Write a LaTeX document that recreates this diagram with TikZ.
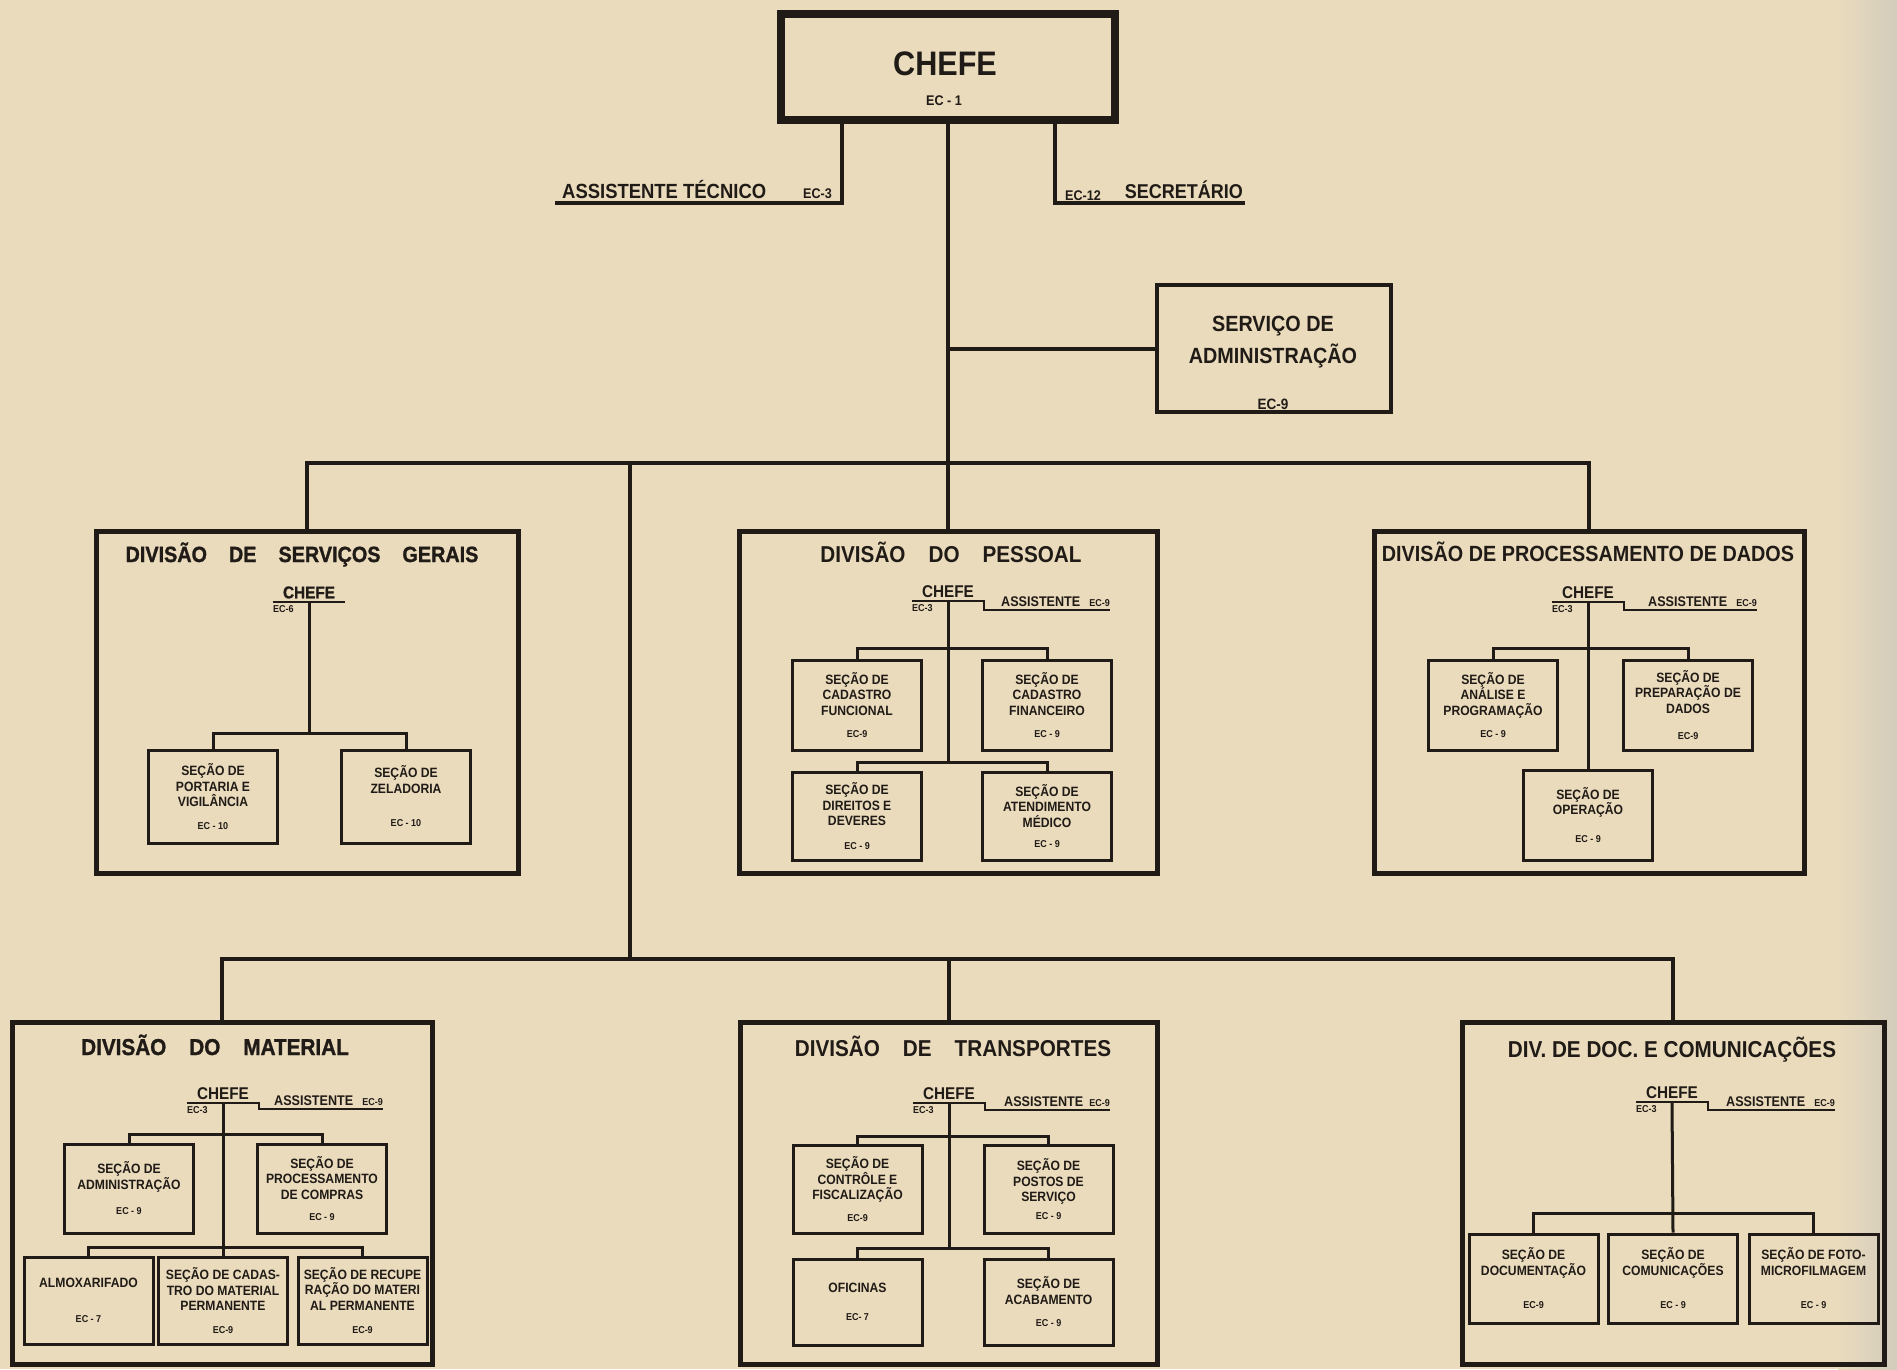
\documentclass[tikz,border=0pt]{standalone}
\usepackage{fontspec}
\setmainfont{Liberation Sans}[FakeStretch=0.9]
\newfontfamily\medfont{Liberation Sans}[FakeStretch=0.9, FakeBold=1.2]
\usetikzlibrary{calc}

\newcommand\eclbl[1]{{\fontsize{10}{12}\selectfont #1}}

\begin{document}
\begin{tikzpicture}[x=1pt, y=-1pt,
    % boxes and lines
    mainbox/.style={draw=ink, line width=8pt, minimum width=334pt, minimum height=106pt, inner sep=0pt},
    servbox/.style={draw=ink, line width=4pt, minimum width=234pt, minimum height=127pt, inner sep=0pt},
    divbox/.style={draw=ink, line width=5pt, minimum width=#1, minimum height=342pt, inner sep=0pt},
    secbox/.style={draw=ink, line width=3pt, minimum width=129pt, minimum height=89pt, inner sep=0pt,
        align=center, text=ink, font=\bfseries\fontsize{13.5}{15.5}\selectfont},
    link/.style={draw=ink, line width=3pt},
    bus/.style={draw=ink, line width=4pt},
    uline/.style={draw=ink, line width=2.5pt},
    % lettering
    lbl/.style={text=ink, inner sep=0pt, anchor=base, font=\bfseries\fontsize{#1}{#1}\selectfont},
    chefelbl/.style={text=ink, font=\bfseries\fontsize{17}{20}\selectfont, minimum width=72pt,
        inner xsep=0pt, inner ysep=3.5pt, text height=12pt, text depth=0pt, anchor=south},
    asstlbl/.style={text=ink, font=\bfseries\fontsize{14}{16}\selectfont,
        inner xsep=0pt, inner ysep=3pt, text height=10pt, text depth=0pt, anchor=south east},
    ecnode/.style={text=ink, font=\bfseries\fontsize{10}{12}\selectfont, inner xsep=0pt, inner ysep=3pt, anchor=north west},
]
    % Colors
    \definecolor{ink}{RGB}{32,27,22}
    \definecolor{paper}{RGB}{234,219,189}
    \definecolor{paperedge}{RGB}{210,204,188}

    % Paper
    \useasboundingbox (0,0) rectangle (1897,1369);
    \fill[paper] (0,0) rectangle (1897,1369);
    \shade[left color=paper, right color=paperedge] (1838,0) rectangle (1897,1369);

    % Chefe
    \node[mainbox] (chefe) at (948,67) {};
    \node[lbl=34] (chefetxt) at (945,75) {CHEFE};
    \node[lbl=14] (chefeec) at (944,105) {EC - 1};

    % Assistente tecnico and secretario
    \node[lbl=20.5, anchor=base west] (asstec) at (562,198) {ASSISTENTE TÉCNICO};
    \node[lbl=14, anchor=base west] (asstecec) at (803,198) {EC-3};
    \node[lbl=14, anchor=base west] (secrec) at (1065,200) {EC-12};
    \node[lbl=20, anchor=base east] (secr) at (1243,198) {SECRETÁRIO};
    \coordinate (astcorner) at (842,203);
    \coordinate (astend) at (555,203);
    \coordinate (seccorner) at (1055,203);
    \coordinate (secend) at (1245,203);
    \draw[bus] (chefe.south -| astcorner) -- (astcorner) -- (astend);
    \draw[bus] (chefe.south -| seccorner) -- (seccorner) -- (secend);

    % Servico de administracao
    \node[servbox] (serv) at (1274,348.5) {};
    \node[text=ink, align=center, inner sep=0pt, font=\bfseries\fontsize{22}{32}\selectfont] (servtxt)
        at (1273,362.5) {SERVIÇO DE\\ADMINISTRAÇÃO\\[14pt]{\fontsize{15}{15}\selectfont EC-9}};

    % Divisions
    \node[divbox=422pt] (dsg)   at (307,702.5)  {};
    \node[divbox=418pt] (dpes)  at (948,702.5)  {};
    \node[divbox=430pt] (dproc) at (1589,702.5) {};
    \node[divbox=420pt] (dmat)  at (222,1193.5) {};
    \node[divbox=417pt] (dtra)  at (949,1193.5) {};
    \node[divbox=422pt] (ddoc)  at (1673,1193.5) {};

    % Main connectors
    \coordinate (bus1) at (630,463);
    \coordinate (bus2) at (630,959);
    \draw[bus] (chefe.south) -- (dpes.north);
    \draw[bus] (serv.west) -- (serv.west -| chefe.south);
    \draw[bus] (dsg.north) |- (bus1) -| (dproc.north);
    \draw[bus] (bus1) -- (bus2);
    \draw[bus] (dmat.north) |- (bus2) -| (ddoc.north);
    \draw[bus] (dtra.north) -- (dtra.north |- bus2);

    %Divisao de servicos gerais
    \node[lbl=22] (sgtitle) at (302,562) {\medfont DIVISÃO\quad DE\quad SERVIÇOS\quad GERAIS};
    \node[chefelbl] (sgchefe) at (309,602) {\medfont CHEFE};
    \node[ecnode] (sgchefeec) at (sgchefe.south west) {EC-6};
    \draw[uline] (sgchefe.south west) -- (sgchefe.south east);
    \coordinate (sgbr) at (309,733);
    \node[secbox, minimum height=93pt] (sgport) at (213,796.5) {SEÇÃO DE\\PORTARIA E\\VIGILÂNCIA\\[7pt]\eclbl{EC - 10}};
    \node[secbox, minimum height=93pt] (sgzel)  at (406,796.5) {SEÇÃO DE\\ZELADORIA\\[18pt]\eclbl{EC - 10}};
    \draw[link] (sgchefe.south) -- (sgbr);
    \draw[link] (sgport.north) |- (sgbr) -| (sgzel.north);

    %Divisao do pessoal
    \node[lbl=23] (ptitle) at (951,562) {DIVISÃO\quad DO\quad PESSOAL};
    \node[chefelbl] (pchefe) at (948,601) {CHEFE};
    \node[ecnode] (pchefeec) at (pchefe.south west) {EC-3};
    \node[asstlbl] (passt) at (1110,610) {ASSISTENTE\hspace{9pt}\eclbl{EC-9}};
    \draw[uline] (pchefe.south west) -- (pchefe.south east) |- (passt.south east);
    \coordinate (pbr1) at (948,648);
    \coordinate (pbr2) at (948,762);
    \node[secbox, minimum height=90pt] (pcadf)   at (857,705)  {SEÇÃO DE\\CADASTRO\\FUNCIONAL\\[7pt]\eclbl{EC-9}};
    \node[secbox, minimum height=90pt] (pcadfin) at (1047,705) {SEÇÃO DE\\CADASTRO\\FINANCEIRO\\[7pt]\eclbl{EC - 9}};
    \node[secbox, minimum height=88pt] (pdir)    at (857,816)  {SEÇÃO DE\\DIREITOS E\\DEVERES\\[8pt]\eclbl{EC - 9}};
    \node[secbox, minimum height=88pt] (patend)  at (1047,816) {SEÇÃO DE\\ATENDIMENTO\\MÉDICO\\[5pt]\eclbl{EC - 9}};
    \draw[link] (pchefe.south) -- (pbr2);
    \draw[link] (pcadf.north) |- (pbr1) -| (pcadfin.north);
    \draw[link] (pdir.north) |- (pbr2) -| (patend.north);

    %Divisao de processamento de dados
    \node[lbl=22] (prtitle) at (1588,561) {DIVISÃO DE PROCESSAMENTO DE DADOS};
    \node[chefelbl] (prchefe) at (1588,602) {CHEFE};
    \node[ecnode] (prchefeec) at (prchefe.south west) {EC-3};
    \node[asstlbl] (prasst) at (1757,610) {ASSISTENTE\hspace{9pt}\eclbl{EC-9}};
    \draw[uline] (prchefe.south west) -- (prchefe.south east) |- (prasst.south east);
    \coordinate (prbr) at (1588,648);
    \node[secbox, minimum height=90pt] (pranal) at (1493,705) {SEÇÃO DE\\ANÁLISE E\\PROGRAMAÇÃO\\[7pt]\eclbl{EC - 9}};
    \node[secbox, minimum height=90pt] (prprep) at (1688,705) {SEÇÃO DE\\PREPARAÇÃO DE\\DADOS\\[11pt]\eclbl{EC-9}};
    \node[secbox, minimum height=90pt] (proper) at (1588,815) {SEÇÃO DE\\OPERAÇÃO\\[12pt]\eclbl{EC - 9}};
    \draw[link] (prchefe.south) -- (proper.north);
    \draw[link] (pranal.north) |- (prbr) -| (prprep.north);

    %Divisao do material
    \node[lbl=23] (mtitle) at (215,1055) {\medfont DIVISÃO\quad DO\quad MATERIAL};
    \node[chefelbl] (mchefe) at (223,1103) {CHEFE};
    \node[ecnode] (mchefeec) at (mchefe.south west) {EC-3};
    \node[asstlbl] (masst) at (383,1109) {ASSISTENTE\hspace{9pt}\eclbl{EC-9}};
    \draw[uline] (mchefe.south west) -- (mchefe.south east) |- (masst.south east);
    \coordinate (mbr1) at (223,1134);
    \coordinate (mbr2) at (223,1247);
    \node[secbox] (madm)  at (129,1188.5) {SEÇÃO DE\\ADMINISTRAÇÃO\\[10pt]\eclbl{EC - 9}};
    \node[secbox] (mproc) at (322,1188.5) {SEÇÃO DE\\PROCESSAMENTO\\DE COMPRAS\\[6pt]\eclbl{EC - 9}};
    \node[secbox, minimum height=87pt] (malmox) at (88.5,1300.5) {ALMOXARIFADO\\[19pt]\eclbl{EC - 7}};
    \node[secbox, minimum height=87pt] (mcadas) at (223,1300.5) {SEÇÃO DE CADAS-\\TRO DO MATERIAL\\PERMANENTE\\[7pt]\eclbl{EC-9}};
    \node[secbox, minimum height=87pt] (mrecup) at (362.5,1300.5) {SEÇÃO DE RECUPE\\RAÇÃO DO MATERI\\AL PERMANENTE\\[8pt]\eclbl{EC-9}};
    \draw[link] (mchefe.south) -- (mcadas.north);
    \draw[link] (madm.north) |- (mbr1) -| (mproc.north);
    \draw[link] (malmox.north) |- (mbr2) -| (mrecup.north);

    %Divisao de transportes
    \node[lbl=23] (ttitle) at (953,1056) {DIVISÃO\quad DE\quad TRANSPORTES};
    \node[chefelbl] (tchefe) at (949,1103) {CHEFE};
    \node[ecnode] (tchefeec) at (tchefe.south west) {EC-3};
    \node[asstlbl] (tasst) at (1110,1110) {ASSISTENTE\hspace{6pt}\eclbl{EC-9}};
    \draw[uline] (tchefe.south west) -- (tchefe.south east) |- (tasst.south east);
    \coordinate (tbr1) at (949,1136);
    \coordinate (tbr2) at (949,1248);
    \node[secbox, minimum height=88pt] (tcontr) at (857.5,1189)  {SEÇÃO DE\\CONTRÔLE E\\FISCALIZAÇÃO\\[6pt]\eclbl{EC-9}};
    \node[secbox, minimum height=88pt] (tpost)  at (1048.5,1189) {SEÇÃO DE\\POSTOS DE\\SERVIÇO\\[2pt]\eclbl{EC - 9}};
    \node[secbox, minimum height=86pt] (tofic)  at (857.5,1302)  {OFICINAS\\[12pt]\eclbl{EC- 7}};
    \node[secbox, minimum height=86pt] (tacab)  at (1048.5,1302) {SEÇÃO DE\\ACABAMENTO\\[7pt]\eclbl{EC - 9}};
    \draw[link] (tchefe.south) -- (tbr2);
    \draw[link] (tcontr.north) |- (tbr1) -| (tpost.north);
    \draw[link] (tofic.north) |- (tbr2) -| (tacab.north);

    %Div. de doc. e comunicacoes
    \node[lbl=23] (dtitle) at (1672,1057) {DIV. DE DOC. E COMUNICAÇÕES};
    \node[chefelbl] (dchefe) at (1672,1102) {CHEFE};
    \node[ecnode] (dchefeec) at (dchefe.south west) {EC-3};
    \node[asstlbl] (dasst) at (1835,1110) {ASSISTENTE\hspace{9pt}\eclbl{EC-9}};
    \draw[uline] (dchefe.south west) -- (dchefe.south east) |- (dasst.south east);
    \coordinate (dbr) at (1672,1213);
    \node[secbox] (ddocum) at (1533.5,1278.5) {SEÇÃO DE\\DOCUMENTAÇÃO\\[18pt]\eclbl{EC-9}};
    \node[secbox] (dcomun) at (1673,1278.5)   {SEÇÃO DE\\COMUNICAÇÕES\\[18pt]\eclbl{EC - 9}};
    \node[secbox] (dfoto)  at (1813.5,1278.5) {SEÇÃO DE FOTO-\\MICROFILMAGEM\\[18pt]\eclbl{EC - 9}};
    \draw[link] (dchefe.south) -- (dcomun.north);
    \draw[link] (ddocum.north) |- (dbr) -| (dfoto.north);

\end{tikzpicture}
\end{document}
